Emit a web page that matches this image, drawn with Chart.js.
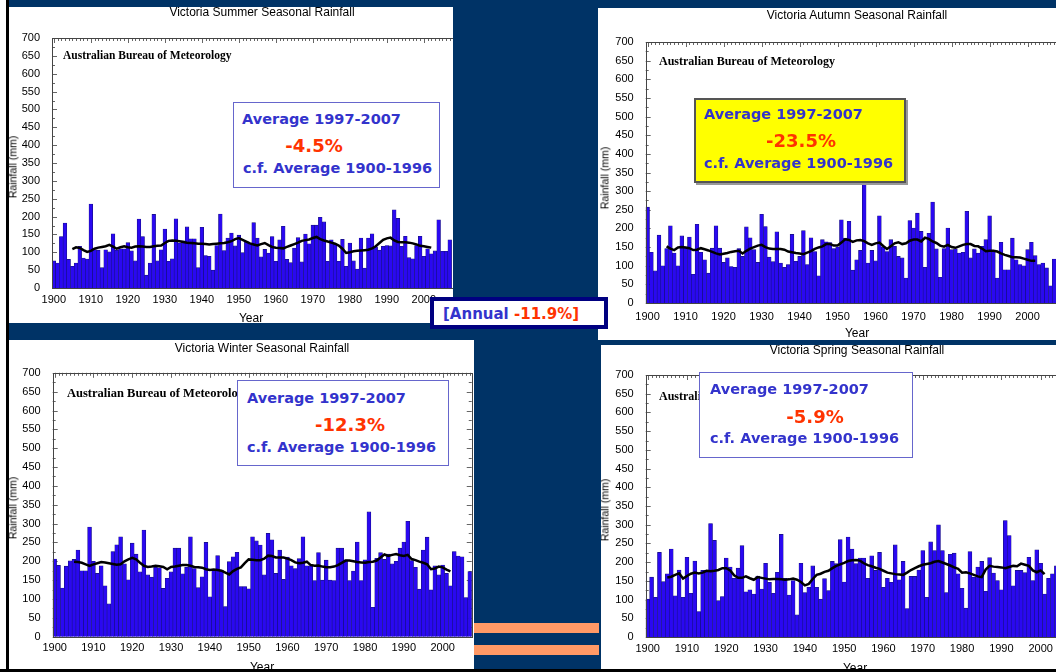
<!DOCTYPE html>
<html>
<head>
<meta charset="utf-8">
<script src="https://cdn.jsdelivr.net/npm/chart.js@4.4.0/dist/chart.umd.min.js"></script>
<style>
  html, body { margin: 0; padding: 0; }
  body { width: 1056px; height: 672px; background: #003366; position: relative; overflow: hidden;
         font-family: 'Liberation Sans', Arial, sans-serif; }
  .panel { position: absolute; background: #fff; overflow: hidden; }
  .panel canvas { position: absolute; left: 0; top: 0; }
  .txt { position: absolute; white-space: nowrap; color: #000; }
  .title { font-size: 12px; line-height: 14px; transform: translateX(-50%); }
  .bom { font-family: 'Liberation Serif', 'Times New Roman', serif; font-weight: bold; font-size: 11.5px; line-height: 13px; }
  .ylab { font-size: 10.5px; line-height: 13px; transform: translate(-50%, -50%) rotate(-90deg); }
  .xlab { font-size: 12px; line-height: 14px; transform: translateX(-50%); }
  .box { position: absolute; box-sizing: border-box; }
  .box .txt { font-family: 'DejaVu Sans', Verdana, sans-serif; font-weight: bold; }
  .blue { color: #3333cc !important; font-size: 14.5px; line-height: 18px; }
  .red { color: #ff3300 !important; font-size: 18px; line-height: 22px; transform: translateX(-50%); }
</style>
</head>
<body>

<div style="position:absolute;left:0;top:0;width:6px;height:672px;background:#fff"></div>
<div style="position:absolute;left:6px;top:0;width:3px;height:672px;background:#000"></div>

<!-- Summer -->
<div class="panel" id="summer" style="left:9px;top:7px;width:444px;height:316px">
  <canvas></canvas>
  <div class="txt title" style="left:253px;top:-2px">Victoria Summer Seasonal Rainfall</div>
  <div class="txt bom" style="left:54px;top:42px">Australian Bureau of Meteorology</div>
  <div class="txt ylab" style="left:4px;top:160px">Rainfall (mm)</div>
  <div class="txt xlab" style="left:242px;top:304px">Year</div>
  <div class="box" style="left:224px;top:95px;width:207px;height:86px;background:#fff;border:1.5px solid #6666cc">
    <div class="txt blue" style="left:8px;top:7px">Average 1997-2007</div>
    <div class="txt red" style="left:80px;top:32px">-4.5%</div>
    <div class="txt blue" style="left:9px;top:56px">c.f. Average 1900-1996</div>
  </div>
</div>

<!-- Autumn -->
<div class="panel" id="autumn" style="left:598px;top:8px;width:458px;height:332px">
  <canvas></canvas>
  <div class="txt title" style="left:259px;top:0px">Victoria Autumn Seasonal Rainfall</div>
  <div class="txt bom" style="left:61px;top:47px;font-size:12px">Australian Bureau of Meteorology</div>
  <div class="txt ylab" style="left:7px;top:170px">Rainfall (mm)</div>
  <div class="txt xlab" style="left:259px;top:318px">Year</div>
  <div class="box" style="left:96px;top:90px;width:212px;height:85px;background:#ffff00;border:2px solid #555;box-shadow:2px 2px 0 #999">
    <div class="txt blue" style="left:8px;top:5px">Average 1997-2007</div>
    <div class="txt red" style="left:105px;top:30px">-23.5%</div>
    <div class="txt blue" style="left:8px;top:54px">c.f. Average 1900-1996</div>
  </div>
</div>

<!-- Winter -->
<div class="panel" id="winter" style="left:9px;top:340px;width:465px;height:329px">
  <canvas></canvas>
  <div class="txt title" style="left:253px;top:1px">Victoria Winter Seasonal Rainfall</div>
  <div class="txt bom" style="left:58px;top:47px;font-size:12.5px">Australian Bureau of Meteorology</div>
  <div class="txt ylab" style="left:4px;top:168px">Rainfall (mm)</div>
  <div class="txt xlab" style="left:253px;top:320px">Year</div>
  <div class="box" style="left:228px;top:40px;width:212px;height:86px;background:#fff;border:1.5px solid #6666cc">
    <div class="txt blue" style="left:9px;top:8px">Average 1997-2007</div>
    <div class="txt red" style="left:112px;top:33px">-12.3%</div>
    <div class="txt blue" style="left:9px;top:57px">c.f. Average 1900-1996</div>
  </div>
</div>

<!-- Spring -->
<div class="panel" id="spring" style="left:601px;top:345px;width:455px;height:324px">
  <canvas></canvas>
  <div class="txt title" style="left:256px;top:-2px">Victoria Spring Seasonal Rainfall</div>
  <div class="txt bom" style="left:58px;top:45px;font-size:12px">Australian Bureau of Meteorology</div>
  <div class="txt ylab" style="left:4px;top:165px">Rainfall (mm)</div>
  <div class="txt xlab" style="left:254px;top:316px">Year</div>
  <div class="box" style="left:98px;top:27px;width:214px;height:86px;background:#fff;border:1.5px solid #6666cc">
    <div class="txt blue" style="left:10px;top:7px">Average 1997-2007</div>
    <div class="txt red" style="left:115px;top:33px">-5.9%</div>
    <div class="txt blue" style="left:10px;top:56px">c.f. Average 1900-1996</div>
  </div>
</div>

<!-- centre decorations -->
<div style="position:absolute;left:474px;top:623px;width:125px;height:10px;background:#ff9966"></div>
<div style="position:absolute;left:474px;top:645px;width:125px;height:10px;background:#ff9966"></div>
<div style="position:absolute;left:0;top:669px;width:1056px;height:3px;background:#000"></div>

<div style="position:absolute;left:430px;top:297px;width:178px;height:32px;box-sizing:border-box;border:4px solid #000080;background:#fff">
  <div class="txt" style="left:9px;top:4px;font-family:'DejaVu Sans',Verdana,sans-serif;font-weight:bold;font-size:15px;line-height:18px"><span style="color:#3333cc">[Annual </span><span style="color:#ff3300">-11.9%]</span></div>
</div>

<script>
const firstYear = 1900;
const decadeTicks = [1900, 1910, 1920, 1930, 1940, 1950, 1960, 1970, 1980, 1990, 2000];
const rainTicks = [0, 50, 100, 150, 200, 250, 300, 350, 400, 450, 500, 550, 600, 650, 700];

// seasonal rainfall (mm), one bar per year from 1900
const summerRain = [76, 70, 144, 182, 80, 61, 70, 117, 84, 81,
  235, 107, 106, 57, 107, 101, 152, 106, 110, 110,
  127, 104, 76, 193, 144, 36, 70, 206, 76, 107,
  165, 75, 82, 194, 126, 132, 171, 138, 138, 57,
  170, 91, 89, 50, 119, 207, 105, 140, 154, 118,
  148, 99, 131, 124, 183, 140, 87, 108, 98, 144,
  75, 135, 173, 80, 71, 112, 141, 73, 151, 124,
  176, 176, 198, 185, 75, 135, 124, 75, 136, 61,
  126, 76, 53, 140, 56, 140, 152, 115, 106, 117,
  119, 118, 219, 195, 117, 145, 85, 82, 119, 145,
  89, 110, 96, 104, 191, 103, 103, 135];
const autumnRain = [257, 136, 86, 182, 100, 146, 207, 134, 100, 180,
  150, 177, 77, 211, 136, 116, 80, 147, 207, 147,
  109, 121, 98, 96, 146, 125, 204, 175, 143, 109,
  238, 205, 123, 111, 191, 107, 96, 103, 184, 112,
  125, 194, 103, 175, 138, 73, 170, 164, 162, 146,
  150, 223, 174, 219, 88, 116, 141, 321, 107, 141,
  113, 234, 150, 138, 170, 152, 125, 121, 67, 221,
  201, 241, 192, 96, 187, 271, 145, 69, 146, 201,
  143, 145, 134, 136, 246, 121, 145, 134, 152, 170,
  234, 138, 67, 163, 89, 89, 174, 116, 103, 100,
  143, 163, 127, 103, 107, 94, 46, 118];
const winterRain = [206, 189, 129, 187, 201, 205, 230, 175, 175, 291,
  200, 168, 188, 135, 87, 226, 244, 265, 193, 151,
  248, 219, 172, 283, 164, 158, 184, 183, 128, 155,
  172, 235, 235, 167, 184, 265, 181, 130, 159, 250,
  106, 179, 215, 177, 80, 199, 212, 224, 133, 133,
  127, 265, 254, 243, 164, 274, 257, 168, 230, 152,
  211, 188, 181, 207, 265, 188, 188, 149, 223, 150,
  203, 150, 149, 235, 235, 204, 149, 174, 251, 149,
  204, 331, 78, 208, 223, 205, 219, 193, 200, 235,
  251, 306, 202, 184, 126, 230, 264, 124, 188, 164,
  190, 168, 135, 226, 214, 212, 104, 173];
const springRain = [101, 160, 106, 226, 148, 169, 235, 110, 179, 106,
  213, 117, 203, 68, 178, 179, 303, 258, 97, 108,
  211, 187, 157, 184, 244, 121, 126, 115, 163, 128,
  197, 146, 117, 173, 274, 157, 112, 151, 59, 197,
  119, 133, 190, 133, 101, 156, 124, 202, 196, 260,
  147, 267, 235, 196, 211, 211, 157, 217, 178, 226,
  133, 157, 146, 246, 153, 202, 76, 162, 162, 179,
  231, 106, 254, 231, 300, 231, 119, 221, 224, 169,
  130, 77, 228, 160, 187, 202, 122, 212, 171, 151,
  126, 311, 271, 137, 178, 178, 172, 213, 151, 233,
  197, 115, 157, 169, 190];

// 11-year running mean as drawn (black line), first point 1905
const trendStart = 1905;
const summerTrend = [109, 114, 112, 106, 101, 104, 110, 113, 115, 117,
  121, 116, 110, 114, 117, 114, 113, 116, 117, 116,
  115, 115, 117, 118, 119, 126, 132, 133, 132, 131,
  129, 127, 126, 125, 124, 124, 123, 122, 123, 124,
  125, 126, 128, 131, 137, 140, 135, 130, 125, 122,
  119, 123, 126, 120, 115, 113, 112, 111, 115, 119,
  123, 127, 132, 134, 136, 140, 143, 137, 133, 130,
  127, 124, 119, 110, 98, 100, 103, 104, 105, 106,
  107, 111, 117, 126, 135, 139, 141, 133, 129, 128,
  128, 127, 125, 122, 118, 117, 115, 113];
const autumnTrend = [152, 146, 142, 149, 150, 149, 147, 142, 143, 147,
  144, 141, 137, 133, 130, 132, 134, 137, 139, 140,
  133, 140, 146, 150, 154, 156, 150, 146, 145, 145,
  145, 143, 138, 136, 134, 133, 131, 135, 139, 145,
  149, 152, 158, 158, 154, 154, 162, 171, 169, 164,
  168, 169, 166, 160, 156, 160, 162, 153, 145, 152,
  160, 163, 158, 160, 167, 170, 170, 165, 175, 172,
  165, 161, 154, 151, 156, 150, 148, 152, 156, 158,
  158, 153, 152, 146, 139, 140, 140, 138, 133, 129,
  126, 123, 123, 122, 119, 116, 113, 113];
const winterTrend = [199, 198, 196, 192, 188, 192, 195, 198, 197, 195,
  193, 191, 192, 200, 205, 209, 205, 196, 188, 185,
  186, 188, 187, 185, 179, 185, 186, 188, 190, 190,
  188, 185, 184, 183, 179, 177, 178, 177, 175, 170,
  165, 174, 180, 184, 195, 205, 204, 203, 203, 207,
  215, 214, 210, 210, 210, 207, 203, 197, 195, 196,
  199, 190, 188, 189, 186, 184, 184, 186, 190, 196,
  202, 202, 200, 198, 197, 196, 198, 199, 202, 210,
  218, 214, 217, 219, 216, 214, 217, 206, 203, 199,
  196, 192, 179, 181, 186, 184, 178, 173];
const springTrend = [159, 161, 166, 170, 156, 163, 169, 172, 170, 172,
  177, 176, 177, 179, 184, 184, 178, 165, 158, 158,
  162, 157, 153, 160, 158, 156, 154, 155, 155, 154,
  153, 154, 156, 153, 147, 138, 142, 155, 166, 169,
  174, 177, 184, 190, 194, 198, 203, 205, 206, 204,
  197, 192, 189, 185, 182, 177, 172, 170, 168, 167,
  166, 172, 179, 184, 189, 193, 195, 197, 201, 203,
  199, 195, 191, 186, 182, 172, 173, 170, 166, 162,
  160, 180, 190, 188, 187, 186, 184, 187, 190, 189,
  196, 193, 190, 178, 173, 178, 168];

// inward MATLAB-style tick marks and the axes box
const framePlugin = {
  id: 'frame',
  beforeDatasetsDraw(chart) {
    const { ctx, chartArea: a, scales: { x, y } } = chart;
    ctx.save();
    ctx.strokeStyle = '#666';
    ctx.lineWidth = 1;
    ctx.beginPath();
    for (let yr = Math.ceil(x.min); yr <= x.max; yr++) {
      const px = Math.round(x.getPixelForValue(yr)) + 0.5;
      const len = yr % 10 === 0 ? 5 : 3;
      ctx.moveTo(px, a.top); ctx.lineTo(px, a.top + len);
      ctx.moveTo(px, a.bottom); ctx.lineTo(px, a.bottom - len);
    }
    for (let v = 0; v <= 700; v += 25) {
      const py = Math.round(y.getPixelForValue(v)) + 0.5;
      const len = v % 50 === 0 ? 5 : 3;
      ctx.moveTo(a.left, py); ctx.lineTo(a.left + len, py);
      ctx.moveTo(a.right, py); ctx.lineTo(a.right - len, py);
    }
    ctx.stroke();
    ctx.restore();
  },
  afterDatasetsDraw(chart) {
    const { ctx, chartArea: a } = chart;
    ctx.save();
    ctx.strokeStyle = '#444';
    ctx.lineWidth = 1;
    ctx.strokeRect(Math.round(a.left) + 0.5, Math.round(a.top) + 0.5,
      Math.round(a.right - a.left), Math.round(a.bottom - a.top));
    ctx.restore();
  }
};

function drawSeason(id, g, rain, trend) {
  const panel = document.getElementById(id);
  const cv = panel.querySelector('canvas');
  const pw = panel.offsetWidth, ph = panel.offsetHeight;
  const px0 = panel.offsetLeft, py0 = panel.offsetTop;
  const plotRight = g.left + (g.xMax - g.xMin) * g.px;
  const w = Math.max(pw, Math.ceil(plotRight - px0) + 2);
  cv.width = w; cv.height = ph;
  cv.style.width = w + 'px'; cv.style.height = ph + 'px';
  const tickFont = { family: "'Liberation Sans', Arial, sans-serif", size: 11 };

  new Chart(cv, {
    type: 'bar',
    data: {
      datasets: [
        {
          type: 'line',
          data: trend.map((v, i) => ({ x: trendStart + i, y: v })),
          borderColor: '#000',
          borderWidth: 2.5,
          pointRadius: 0,
          order: 0
        },
        {
          type: 'bar',
          data: rain.map((v, i) => ({ x: firstYear + i, y: v })),
          backgroundColor: '#2a08f2',
          borderColor: '#14107a',
          borderWidth: 0.6,
          barPercentage: 1,
          categoryPercentage: 1,
          order: 1
        }
      ]
    },
    options: {
      responsive: false,
      animation: false,
      devicePixelRatio: 1,
      layout: { padding: { left: 0, bottom: 0, top: g.top - py0, right: w - (plotRight - px0) } },
      plugins: { legend: { display: false }, tooltip: { enabled: false } },
      scales: {
        x: {
          type: 'linear', min: g.xMin, max: g.xMax, offset: false,
          grid: { display: false }, border: { display: false },
          afterBuildTicks: s => { s.ticks = decadeTicks.map(v => ({ value: v })); },
          afterFit: s => { s.height = ph - (g.bottom - py0); },
          ticks: { autoSkip: false, maxRotation: 0, padding: g.labelPad, color: '#000', font: tickFont,
                   callback: v => String(v) }
        },
        y: {
          min: 0, max: 700,
          grid: { display: false }, border: { display: false },
          afterBuildTicks: s => { s.ticks = rainTicks.map(v => ({ value: v })); },
          afterFit: s => { s.width = g.left - px0; },
          ticks: { padding: 4, color: '#000', font: tickFont, callback: v => String(v) }
        }
      }
    },
    plugins: [framePlugin]
  });
}

drawSeason('summer', { left: 52, top: 38, bottom: 288, xMin: 1899.5, xMax: 2009.5, px: 3.7, labelPad: -3 }, summerRain, summerTrend);
drawSeason('autumn', { left: 645.7, top: 42, bottom: 303, xMin: 1899.5, xMax: 2011, px: 3.8, labelPad: -1 }, autumnRain, autumnTrend);
drawSeason('winter', { left: 52.7, top: 372.8, bottom: 636.7, xMin: 1899.5, xMax: 2007.5, px: 3.88, labelPad: -3 }, winterRain, winterTrend);
drawSeason('spring', { left: 645.7, top: 375, bottom: 637, xMin: 1899.5, xMax: 2010, px: 3.93, labelPad: -3 }, springRain, springTrend);
</script>
</body>
</html>
